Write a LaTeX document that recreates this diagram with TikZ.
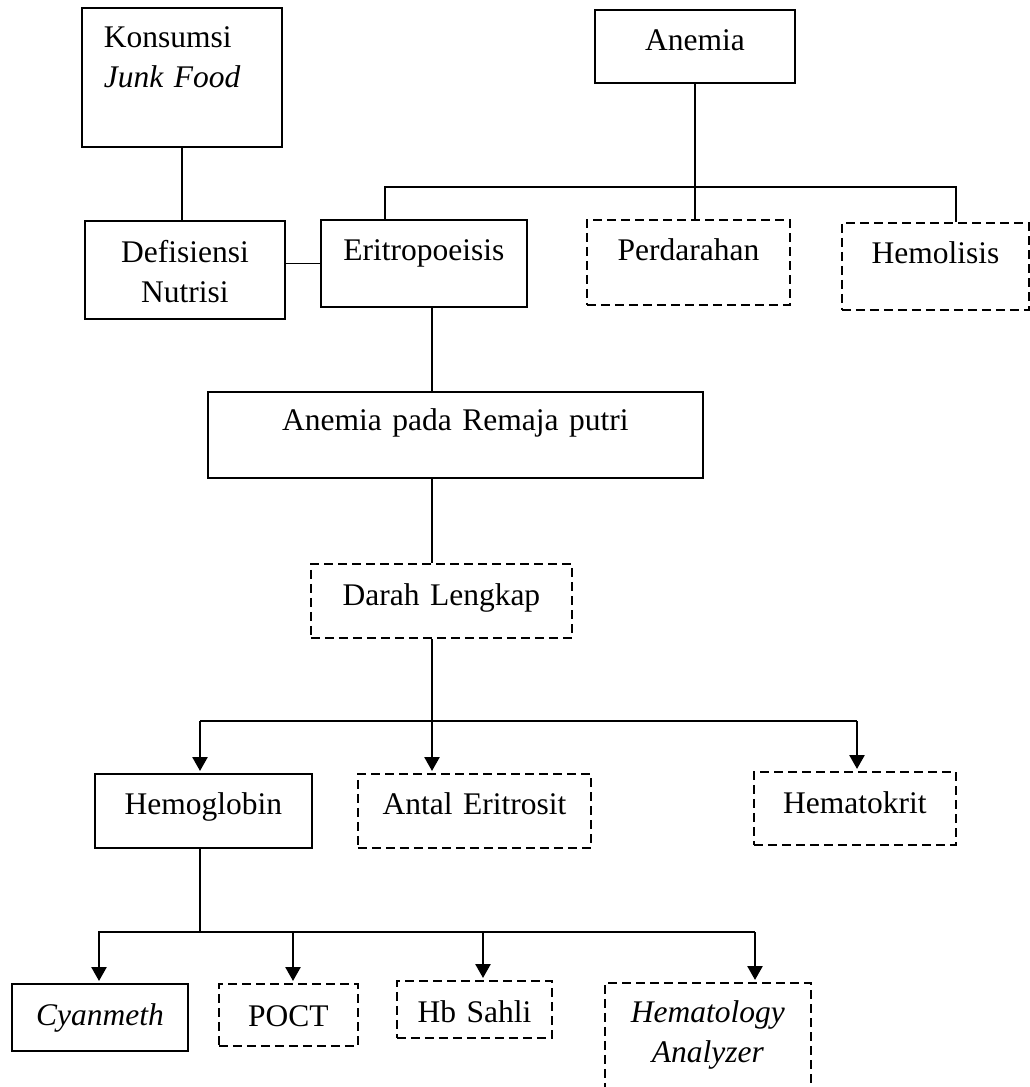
\documentclass[tikz,border=0pt]{standalone}
\usepackage{fontspec}
\setmainfont{Liberation Serif}
\usetikzlibrary{arrows.meta}
\newcommand{\flowbox}[4][]{\node[box,#1] at (#2) (#3) {#4}}
\tikzset{
	box/.style={draw,line width=1.8pt,anchor=north west,inner sep=0pt,align=center,font=\fontsize{31.5}{40}\selectfont},
	dashbox/.style={box,dash pattern=on 9pt off 5pt},
	link/.style={line width=1.8pt},
	pointer/.style={line width=2.6pt,->,shorten >=2pt},
}

\begin{document}
\begin{tikzpicture}[x=1pt,y=-1pt,>={Triangle[length=14pt,width=15pt]}]
				\useasboundingbox (0,0) rectangle (1030,1087);
				
				\flowbox[text width=156pt,inner xsep=22pt,align=left,text height=40pt,text depth=99pt]{81,7}{konsumsi}{Konsumsi\\\textit{Junk Food}};
				\flowbox[text width=200pt,text height=41pt,text depth=32pt]{594,9}{anemia}{Anemia};
				\flowbox[text width=200pt,text height=42pt,text depth=56pt]{84,220}{defisiensi}{Defisiensi\\Nutrisi};
				\flowbox[text width=206pt,text height=41pt,text depth=46pt]{320,219}{eri}{Eritropoeisis};
				\flowbox[dashbox,text width=203pt,text height=41pt,text depth=44pt]{586,219}{perdarahan}{Perdarahan};
				\flowbox[dashbox,text width=187pt,text height=41pt,text depth=46pt]{841,222}{hemolisis}{Hemolisis};
				
				\flowbox[text width=495pt,text height=39pt,text depth=47pt]{207,391}{remaja}{Anemia pada Remaja putri};
				\flowbox[dashbox,text width=261pt,text height=42pt,text depth=32pt]{310,563}{darah}{Darah Lengkap};
				
				\flowbox[text width=217pt,text height=41pt,text depth=33pt]{94,773}{hemoglobin}{Hemoglobin};
				\flowbox[dashbox,text width=233pt,text height=41pt,text depth=33pt]{357,773}{antal}{Antal Eritrosit};
				\flowbox[dashbox,text width=202pt,text height=42pt,text depth=31pt]{753,771}{hematokrit}{Hematokrit};
				
				\flowbox[text width=176pt,text height=42pt,text depth=25pt]{11,983}{cyanmeth}{\textit{Cyanmeth}};
				\flowbox[dashbox,text width=139pt,text height=43pt,text depth=19pt]{218,983}{poct}{POCT};
				\flowbox[dashbox,text width=155pt,text height=42pt,text depth=15pt]{396,980}{sahli}{Hb Sahli};
				\flowbox[dashbox,text width=206pt,text height=40pt,text depth=78pt]{604,982}{hematology}{\textit{Hematology}\\\textit{Analyzer}};
				
				\draw[link] (konsumsi.south) -- (konsumsi.south |- defisiensi.north);
				\draw[link] (defisiensi.east |- eri.west) -- (eri.west);
				\draw[link] (anemia.south) -- (anemia.south |- perdarahan.north);
				\coordinate (busL) at (385,187);
				\coordinate (busR) at (956,187);
				\draw[link] (busL |- eri.north) -- (busL) -- (busR) -- (busR |- hemolisis.north);
				
				\coordinate (spine) at (432,0);
				\draw[link] (spine |- eri.south) -- (spine |- remaja.north);
				\draw[link] (spine |- remaja.south) -- (spine |- darah.north);
				
				\coordinate (labL) at (200,721);
				\coordinate (labR) at (857,721);
				\draw[link] (spine |- darah.south) -- (spine |- labL);
				\draw[link] (labL) -- (labR);
				\draw[pointer] (labL) -- (labL |- hemoglobin.north);
				\draw[pointer] (spine |- labL) -- (spine |- antal.north);
				\draw[pointer] (labR) -- (labR |- hematokrit.north);
				
				\coordinate (hbL) at (98,932);
				\coordinate (hbR) at (755,932);
				\draw[link] (labL |- hemoglobin.south) -- (labL |- hbL);
				\draw[link] (hbL) -- (hbR);
				\foreach \x/\n in {99/cyanmeth,293/poct,483/sahli,755/hematology}{
					\coordinate (tap) at (\x,932);
					\draw[pointer] (tap) -- (tap |- \n.north);
				}
				
\end{tikzpicture}
\end{document}
